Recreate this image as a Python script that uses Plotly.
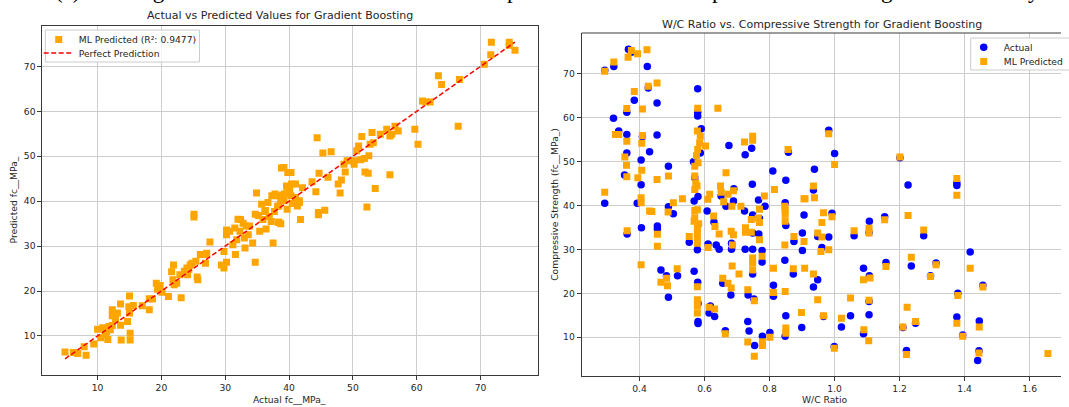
import plotly.graph_objects as go

W, H = 1069, 407

# ---------------- data: left panel (actual vs predicted) ----------------
left_pairs = [
    (4.9, 6.4), (6.2, 6.3), (6.9, 6.1), (7.9, 7.6), (8.2, 5.7), (9.4, 8.2), (10.0, 11.5), (10.5, 9.6),
    (10.8, 11.8), (11.4, 11.0), (11.6, 9.2), (11.8, 12.1), (12.3, 12.3), (11.2, 10.3), (12.0, 11.4),
    (12.3, 15.8), (12.3, 14.5), (13.1, 15.1), (12.8, 13.9), (13.6, 17.1), (13.6, 12.4), (13.7, 9.1),
    (14.7, 13.2), (15.0, 15.1), (14.9, 16.5), (15.0, 18.9), (15.1, 10.6), (15.1, 9.1), (15.6, 16.8),
    (17.0, 16.7), (18.1, 15.8), (18.1, 18.3), (18.6, 18.2), (19.2, 21.7), (19.4, 20.4), (19.8, 21.2),
    (20.1, 19.7), (21.1, 18.8), (21.6, 24.3), (21.8, 22.5), (21.9, 25.8), (22.0, 21.4), (22.4, 21.7),
    (22.9, 23.6), (23.1, 18.5), (23.6, 24.4), (24.0, 25.1), (24.1, 23.6), (24.3, 24.8), (24.5, 25.8),
    (24.8, 26.2), (25.1, 36.5), (25.1, 37.1), (25.4, 26.6), (25.6, 23.1), (25.7, 22.5), (26.1, 28.1),
    (26.8, 28.1), (26.9, 26.2), (27.1, 28.4), (27.6, 30.9), (29.4, 25.8), (29.8, 25.1), (29.8, 28.8),
    (30.2, 26.4), (30.2, 32.5), (30.2, 33.6), (30.7, 33.3), (31.2, 30.3), (31.5, 34.0), (31.6, 28.1),
    (31.8, 31.4), (32.3, 33.3), (32.4, 35.9), (32.8, 35.1), (33.0, 31.8), (33.1, 29.6), (33.3, 34.5),
    (33.6, 32.5), (33.8, 34.5), (34.3, 30.7), (34.7, 26.4), (35.2, 36.8), (35.4, 33.3), (35.9, 35.9),
    (36.2, 37.7), (36.4, 33.8), (36.9, 36.6), (37.2, 35.5), (37.5, 30.7), (37.7, 37.7), (38.7, 35.0),
    (38.2, 38.8), (32.0, 36.0), (34.7, 37.1), (35.7, 39.3), (36.3, 37.9), (36.7, 39.7), (37.3, 41.2),
    (37.8, 41.6), (38.3, 35.3), (38.8, 47.4), (39.3, 41.6), (39.8, 46.4), (39.6, 43.4), (40.1, 42.7),
    (40.4, 43.8), (34.9, 41.8), (38.2, 41.2), (38.7, 40.4), (39.7, 41.9), (40.3, 41.2), (41.0, 40.8),
    (41.3, 38.9), (41.6, 40.1), (38.4, 39.0), (39.2, 40.1), (39.7, 38.2), (40.5, 39.5),
    (71.7, 75.4), (74.5, 75.4), (74.5, 74.7), (75.4, 73.6), (71.6, 72.6), (70.6, 70.5), (63.4, 67.9),
    (63.9, 66.0), (66.7, 67.1), (60.9, 62.3), (61.4, 62.1), (62.1, 62.1), (59.7, 56.0), (60.2, 52.7),
    (66.5, 56.7), (55.3, 56.0), (56.1, 54.9), (55.8, 54.5), (56.6, 56.7), (57.1, 55.6), (54.3, 54.9),
    (53.0, 55.3), (53.2, 53.0), (52.7, 52.7), (51.4, 54.4), (50.9, 52.3), (50.6, 51.2), (51.8, 49.5),
    (52.5, 50.1), (51.2, 49.2), (50.1, 49.0), (44.4, 54.1), (45.3, 50.7), (46.6, 51.0), (49.1, 49.0),
    (48.6, 48.2), (50.2, 48.2), (48.8, 46.5), (51.9, 46.5), (52.4, 46.2), (55.8, 45.9), (53.5, 42.8),
    (52.2, 38.7), (47.7, 43.8), (48.2, 44.7), (48.0, 41.8), (46.1, 45.3), (44.7, 46.2), (43.6, 44.3),
    (40.3, 46.4), (39.2, 47.5), (41.0, 43.8), (39.0, 41.4), (42.1, 43.0), (41.6, 39.7), (44.2, 42.1),
    (44.6, 37.5), (44.6, 37.0), (45.6, 38.0), (41.8, 35.9), (38.4, 35.3),
]
left_actual = [p[0] for p in left_pairs]
left_pred = [p[1] for p in left_pairs]
r2_label = "ML Predicted (R²: 0.9477)"

# ---------------- data: right panel (W/C ratio vs strength) ----------------
actual_pairs = [
    (0.293, 70.7), (0.321, 71.6), (0.366, 75.5), (0.375, 74.8), (0.424, 71.6), (0.427, 66.7), (0.384, 63.9),
    (0.454, 63.3), (0.361, 61.2), (0.320, 59.8), (0.336, 56.9), (0.361, 56.1), (0.409, 55.6), (0.454, 56.0),
    (0.361, 51.9), (0.431, 52.2), (0.405, 50.3), (0.354, 46.9), (0.405, 44.7), (0.489, 48.9), (0.579, 66.5),
    (0.579, 61.2), (0.579, 60.3), (0.590, 57.4), (0.587, 51.9), (0.566, 49.9), (0.570, 46.3), (0.568, 41.0),
    (0.580, 42.0), (0.675, 53.6), (0.725, 51.5), (0.745, 53.0), (0.747, 44.8), (0.810, 47.8), (0.850, 45.7),
    (0.858, 52.1), (0.651, 42.1), (0.666, 39.8), (0.690, 43.8), (0.689, 41.0), (0.723, 38.7), (0.748, 37.8),
    (0.766, 41.2), (0.786, 39.8), (0.848, 40.6), (0.293, 40.5), (0.393, 40.5), (0.489, 39.7), (0.504, 38.1),
    (0.455, 35.3), (0.406, 34.9), (0.608, 38.7), (0.629, 36.2), (0.906, 37.8),
    (0.362, 33.5), (0.455, 34.6), (0.466, 25.3), (0.483, 24.0), (0.489, 19.1), (0.517, 24.0), (0.553, 31.6),
    (0.568, 25.0), (0.579, 22.5), (0.578, 29.9), (0.580, 13.6), (0.580, 13.1), (0.580, 17.7), (0.611, 31.2),
    (0.618, 17.1), (0.614, 15.5), (0.631, 14.7), (0.636, 31.0), (0.645, 30.0), (0.656, 22.3), (0.664, 11.5),
    (0.681, 19.6), (0.683, 31.4), (0.683, 30.0), (0.725, 30.0), (0.734, 19.6), (0.733, 13.6), (0.737, 11.4),
    (0.748, 33.7), (0.748, 30.0), (0.748, 24.4), (0.752, 18.7), (0.754, 8.1), (0.767, 33.5), (0.769, 37.0),
    (0.777, 27.1), (0.777, 29.7), (0.778, 10.2), (0.801, 11.1), (0.812, 21.8), (0.812, 19.3), (0.847, 27.5),
    (0.850, 14.9), (0.848, 10.2), (0.850, 35.4), (0.873, 24.4), (0.875, 31.8), (0.899, 12.2), (0.901, 33.7),
    (0.901, 29.7),
    (0.982, 57.1), (1.000, 51.8), (0.938, 48.2), (0.935, 43.5), (0.992, 38.2), (1.107, 36.4), (1.154, 37.4),
    (1.201, 50.8), (1.226, 44.6), (1.376, 44.5), (1.376, 45.1),
    (0.948, 32.9), (0.982, 32.8), (0.961, 30.4), (1.060, 33.1), (1.106, 33.8), (1.274, 33.1), (0.935, 21.4),
    (0.948, 23.1), (1.089, 25.7), (1.107, 24.0), (1.158, 27.0), (1.236, 26.2), (1.312, 26.9), (1.295, 24.0),
    (1.417, 29.4), (1.379, 20.0), (1.456, 21.8), (0.966, 14.7), (1.021, 12.3), (1.049, 14.9), (1.106, 15.1),
    (1.106, 18.1), (1.089, 10.8), (0.999, 7.9), (1.221, 7.0), (1.249, 13.2), (1.210, 12.2), (1.376, 14.6),
    (1.445, 13.7), (1.394, 10.5), (1.444, 6.9), (1.440, 4.7),
]
predicted_pairs = [
    (0.293, 70.5), (0.321, 72.6), (0.375, 75.2), (0.365, 73.7), (0.394, 74.5), (0.423, 75.4), (0.427, 67.1),
    (0.454, 67.8), (0.384, 65.9), (0.361, 62.0), (0.409, 61.9), (0.326, 56.1), (0.336, 56.1), (0.361, 54.6),
    (0.409, 55.9), (0.407, 54.1), (0.355, 51.0), (0.360, 49.1), (0.361, 46.5), (0.395, 46.3), (0.407, 48.0),
    (0.454, 45.9), (0.489, 46.7), (0.293, 43.0), (0.405, 41.7), (0.405, 40.6), (0.431, 38.7), (0.438, 38.6),
    (0.532, 41.5), (0.504, 40.6), (0.579, 62.1), (0.578, 56.9), (0.587, 55.7), (0.585, 54.2), (0.579, 52.7),
    (0.575, 51.3), (0.603, 53.5), (0.570, 48.9), (0.580, 49.7), (0.570, 46.7), (0.573, 45.1), (0.577, 44.4),
    (0.570, 43.6), (0.641, 62.1), (0.723, 54.4), (0.748, 55.7), (0.748, 54.8), (0.857, 52.7), (0.666, 47.4),
    (0.649, 44.4), (0.651, 43.0), (0.672, 42.5), (0.689, 43.3), (0.712, 39.8), (0.815, 43.6), (0.784, 42.1),
    (0.616, 42.5), (0.610, 41.4), (0.628, 37.6), (0.659, 40.8), (0.684, 39.8), (0.769, 39.1), (0.765, 37.1),
    (0.744, 36.8), (0.769, 36.1), (0.726, 34.9), (0.848, 39.1), (0.848, 38.0), (0.848, 36.4), (0.906, 41.5),
    (0.570, 37.2), (0.568, 36.4), (0.570, 38.8), (0.582, 35.8),
    (0.362, 34.2), (0.405, 26.5), (0.455, 33.4), (0.455, 30.7), (0.466, 22.5), (0.483, 23.4), (0.486, 21.7),
    (0.488, 38.5), (0.516, 25.6), (0.553, 32.9), (0.578, 39.0), (0.578, 34.8), (0.578, 33.7), (0.578, 32.6),
    (0.578, 31.4), (0.578, 21.5), (0.578, 18.5), (0.578, 17.1), (0.578, 15.5), (0.611, 30.4), (0.614, 16.8),
    (0.631, 16.4), (0.632, 35.2), (0.645, 33.5), (0.656, 23.4), (0.664, 10.8), (0.672, 22.3), (0.682, 21.2),
    (0.682, 34.1), (0.689, 33.3), (0.685, 26.2), (0.686, 31.0), (0.706, 24.4), (0.726, 33.9), (0.733, 20.8),
    (0.733, 8.9), (0.744, 33.9), (0.748, 28.0), (0.748, 26.9), (0.748, 25.3), (0.753, 18.3), (0.753, 5.7),
    (0.769, 32.2), (0.777, 28.4), (0.778, 9.0), (0.778, 8.1), (0.801, 10.0), (0.812, 25.7), (0.812, 20.2),
    (0.847, 31.0), (0.848, 20.4), (0.850, 12.1), (0.850, 10.9), (0.875, 32.9), (0.873, 25.6), (0.898, 15.6),
    (0.906, 31.8), (0.908, 25.7), (0.847, 39.8),
    (0.982, 56.3), (1.000, 49.3), (0.935, 44.4), (0.909, 41.5), (0.938, 41.7), (0.966, 38.3), (0.961, 36.1),
    (0.992, 37.4), (1.060, 34.2), (1.106, 34.8), (1.154, 36.7), (1.201, 51.0), (1.226, 37.7), (1.274, 34.4),
    (1.376, 46.1), (1.376, 42.3),
    (0.948, 33.7), (0.961, 32.8), (0.958, 29.5), (0.982, 29.9), (1.106, 33.7), (0.935, 24.4), (1.089, 23.1),
    (1.109, 23.5), (1.158, 26.1), (1.236, 28.2), (1.312, 26.5), (1.295, 23.8), (1.417, 25.7), (1.379, 19.5),
    (1.456, 21.4), (0.948, 18.5), (0.966, 14.9), (1.021, 14.3), (1.049, 18.9), (1.106, 18.4), (1.090, 11.7),
    (1.105, 9.2), (0.999, 7.5), (1.223, 16.8), (1.210, 12.3), (1.249, 13.6), (1.376, 13.2), (1.445, 12.3),
    (1.394, 10.2), (1.221, 6.1), (1.444, 6.4), (1.656, 6.3),
]
wc_actual = [p[0] for p in actual_pairs]
strength_actual = [p[1] for p in actual_pairs]
wc_pred = [p[0] for p in predicted_pairs]
strength_pred = [p[1] for p in predicted_pairs]

left_xticks = [10, 20, 30, 40, 50, 60, 70]
left_yticks = [10, 20, 30, 40, 50, 60, 70]
right_xticks = [0.4, 0.6, 0.8, 1.0, 1.2, 1.4, 1.6]
right_xticktext = ["0.4", "0.6", "0.8", "1.0", "1.2", "1.4", "1.6"]
right_yticks = [10, 20, 30, 40, 50, 60, 70]

FONT = "DejaVu Sans"
TXT = "#262626"
SPINE = "#3a3a3a"
GRID = "#cdcdcd"
ORANGE = "#FFA500"
BLUE = "#0000FF"


def px_x(p):
    return p / W


def px_y(p):
    return 1 - p / H


def entry_legend(marker_x, marker_y, dy):
    # a borderless single-entry legend whose symbol centre lands on (marker_x, marker_y) px
    return dict(x=px_x(marker_x - 19), y=px_y(marker_y - dy), xanchor="left", yanchor="top",
                bgcolor="rgba(0,0,0,0)", borderwidth=0, itemwidth=30,
                font=dict(family=FONT, size=9.2, color=TXT))


fig = go.Figure()

# left panel
fig.add_trace(go.Scatter(
    x=left_actual, y=left_pred, mode="markers", name=r2_label,
    marker=dict(symbol="square", size=7, color=ORANGE, line=dict(width=0)),
    xaxis="x", yaxis="y", legend="legend"))
lo, hi = min(left_actual), max(left_actual)
fig.add_trace(go.Scatter(
    x=[lo, hi], y=[lo, hi], mode="lines", name="Perfect Prediction",
    line=dict(color="red", width=1.5, dash="5px,2.5px"),
    xaxis="x", yaxis="y", legend="legend2"))

# right panel
fig.add_trace(go.Scatter(
    x=wc_actual, y=strength_actual, mode="markers", name="Actual",
    marker=dict(symbol="circle", size=7.5, color=BLUE, line=dict(width=0)),
    xaxis="x2", yaxis="y2", legend="legend3"))
fig.add_trace(go.Scatter(
    x=wc_pred, y=strength_pred, mode="markers", name="ML Predicted",
    marker=dict(symbol="square", size=7, color=ORANGE, line=dict(width=0)),
    xaxis="x2", yaxis="y2", legend="legend4"))

axis_common = dict(
    showgrid=True, gridcolor=GRID, gridwidth=1, zeroline=False,
    showline=True, linecolor=SPINE, linewidth=1,
    ticks="outside", ticklen=4, tickcolor=SPINE, tickwidth=1,
    tickfont=dict(family=FONT, size=9.2, color=TXT),
)

fig.update_layout(
    width=W, height=H, margin=dict(l=0, r=0, t=0, b=0),
    paper_bgcolor="white", plot_bgcolor="white", template="none",
    xaxis=dict(domain=[px_x(42.7), px_x(541.7)], range=[1.35, 78.95], anchor="y",
               tickvals=left_xticks, mirror=True, **axis_common),
    yaxis=dict(domain=[px_y(375), px_y(26)], range=[1.3, 79.0], anchor="x",
               tickvals=left_yticks, mirror=True, **axis_common),
    xaxis2=dict(domain=[px_x(586), 1.0], range=[0.222, 1.6963], anchor="y2",
                tickvals=right_xticks, ticktext=right_xticktext, mirror=False, **axis_common),
    yaxis2=dict(domain=[px_y(375.7), px_y(33)], range=[1.25, 79.2], anchor="x2",
                tickvals=right_yticks, mirror=False, **axis_common),
    legend=entry_legend(58, 40, 15),
    legend2=entry_legend(58, 53.5, 15),
    legend3=entry_legend(990, 46.7, 14),
    legend4=entry_legend(990, 61, 14),
    showlegend=True,
)

# legend frames
fig.add_shape(type="rect", xref="paper", yref="paper",
              x0=px_x(45.7), x1=px_x(201), y0=px_y(62), y1=px_y(30),
              line=dict(color="#cccccc", width=1), fillcolor="rgba(255,255,255,0.8)", layer="above")
fig.add_shape(type="rect", xref="paper", yref="paper",
              x0=px_x(978), x1=px_x(1080), y0=px_y(70), y1=px_y(38),
              line=dict(color="#cccccc", width=1), fillcolor="rgba(255,255,255,0.8)", layer="above")

# top spine of right panel (its right edge is cut off by the crop)
fig.add_shape(type="line", xref="x2 domain", yref="y2 domain", x0=0, x1=1, y0=1, y1=1,
              line=dict(color=SPINE, width=1))

ann = []
ann.append(dict(text="Actual vs Predicted Values for Gradient Boosting", x=px_x(282), y=px_y(16),
                xref="paper", yref="paper", xanchor="center", yanchor="middle", showarrow=False,
                font=dict(family=FONT, size=11, color=TXT)))
ann.append(dict(text="W/C Ratio vs. Compressive Strength for Gradient Boosting", x=px_x(828), y=px_y(24),
                xref="paper", yref="paper", xanchor="center", yanchor="middle", showarrow=False,
                font=dict(family=FONT, size=11, color=TXT)))
ann.append(dict(text="Actual fc__MPa_", x=px_x(292), y=px_y(399), xref="paper", yref="paper",
                xanchor="center", yanchor="middle", showarrow=False,
                font=dict(family=FONT, size=9.2, color=TXT)))
ann.append(dict(text="W/C Ratio", x=px_x(831), y=px_y(399), xref="paper", yref="paper",
                xanchor="center", yanchor="middle", showarrow=False,
                font=dict(family=FONT, size=9.2, color=TXT)))
ann.append(dict(text="Predicted fc__MPa_", x=px_x(13.5), y=px_y(200), xref="paper", yref="paper",
                xanchor="center", yanchor="middle", textangle=-90, showarrow=False,
                font=dict(family=FONT, size=9.2, color=TXT)))
ann.append(dict(text="Compressive Strength (fc__MPa_)", x=px_x(558), y=px_y(204), xref="paper", yref="paper",
                xanchor="center", yanchor="middle", textangle=-90, showarrow=False,
                font=dict(family=FONT, size=9.2, color=TXT)))

# clipped caption line of the surrounding document (only descenders visible)
caption_words = [("(a) Training", 53), ("predicted", 509), ("performance", 715), ("gradient", 886), ("yield", 1034)]
for word, xpos in caption_words:
    ann.append(dict(text=word, x=px_x(xpos), y=px_y(-9.5), xref="paper", yref="paper",
                    xanchor="left", yanchor="middle", showarrow=False,
                    font=dict(family="Liberation Serif", size=23, color="black")))

fig.update_layout(annotations=ann)
fig.write_html("out.html", config={"displayModeBar": False},
               post_script="document.body.style.margin='0px';document.body.style.overflow='hidden';")
